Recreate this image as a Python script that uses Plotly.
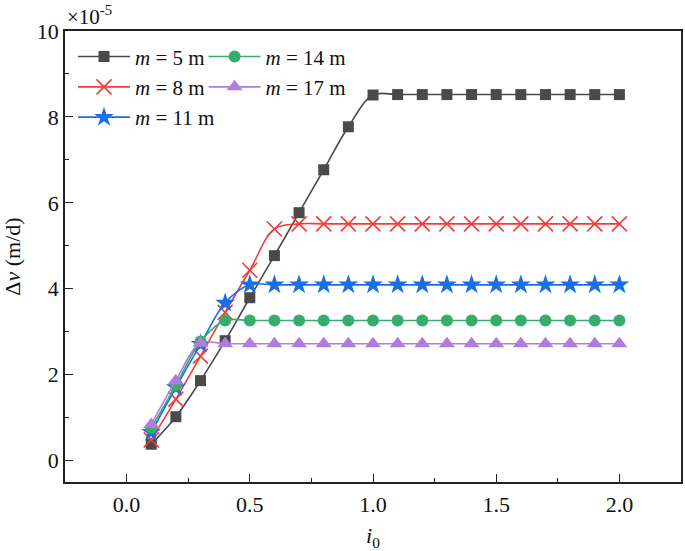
import plotly.graph_objects as go

i0 = [round(0.1 * k, 1) for k in range(1, 21)]

dv_m5 = [0.38, 1.02, 1.86, 2.79, 3.79, 4.77, 5.77, 6.77, 7.77, 8.51,
         8.52, 8.52, 8.52, 8.52, 8.52, 8.52, 8.52, 8.52, 8.52, 8.52]
dv_m8 = [0.48, 1.43, 2.43, 3.45, 4.43, 5.39, 5.51, 5.51, 5.51, 5.51,
         5.51, 5.51, 5.51, 5.51, 5.51, 5.51, 5.51, 5.51, 5.51, 5.51]
dv_m11 = [0.66, 1.70, 2.71, 3.67, 4.09, 4.09, 4.09, 4.09, 4.09, 4.09,
          4.09, 4.09, 4.09, 4.09, 4.09, 4.09, 4.09, 4.09, 4.09, 4.09]
dv_m14 = [0.76, 1.75, 2.77, 3.26, 3.26, 3.26, 3.26, 3.26, 3.26, 3.26,
          3.26, 3.26, 3.26, 3.26, 3.26, 3.26, 3.26, 3.26, 3.26, 3.26]
dv_m17 = [0.84, 1.86, 2.73, 2.72, 2.72, 2.72, 2.72, 2.72, 2.72, 2.72,
          2.72, 2.72, 2.72, 2.72, 2.72, 2.72, 2.72, 2.72, 2.72, 2.72]

series_names = ["<i>m</i> = 5 m", "<i>m</i> = 8 m", "<i>m</i> = 11 m",
                "<i>m</i> = 14 m", "<i>m</i> = 17 m"]
series_values = [dv_m5, dv_m8, dv_m11, dv_m14, dv_m17]
colors = ["#4a4a4a", "#f23b3b", "#1a6ee6", "#36ad6a", "#b07ddf"]
symbols = ["square", "x-thin", "star", "circle", "triangle-up"]
sizes = [11, 15, 15, 12, 14]
legends = ["legend", "legend", "legend", "legend2", "legend2"]

FONT = "Liberation Serif"

fig = go.Figure()
for name, vals, c, s, sz, lg in zip(series_names, series_values, colors, symbols, sizes, legends):
    marker = dict(symbol=s, size=sz, color=c)
    if s == "x-thin":
        marker["line"] = dict(color=c, width=1.6)
    else:
        marker["line"] = dict(width=0)
    fig.add_trace(go.Scatter(
        x=i0, y=vals, name=name, mode="lines+markers",
        line=dict(color=c, width=1.6, shape="spline", smoothing=1.0),
        marker=marker, legend=lg,
    ))

axis_common = dict(
    showline=True, linecolor="#222", linewidth=1.7, mirror=True,
    ticks="inside", ticklen=8, tickwidth=1.4, tickcolor="#222",
    showgrid=False, zeroline=False,
    tickfont=dict(family=FONT, size=22, color="#111"),
)

fig.update_xaxes(
    range=[-0.25, 2.25], tickvals=[0.0, 0.5, 1.0, 1.5, 2.0],
    ticktext=["0.0", "0.5", "1.0", "1.5", "2.0"],
    minor=dict(tickvals=[0.25, 0.75, 1.25, 1.75], ticks="inside", ticklen=4,
               tickwidth=1.4, tickcolor="#222"),
    ticklabelstandoff=2,
    title=dict(text="<i>i</i><sub>0</sub>", font=dict(family=FONT, size=22, color="#111"),
               standoff=13),
    **axis_common,
)
fig.update_yaxes(
    range=[-0.5, 10], tickvals=[0, 2, 4, 6, 8, 10],
    minor=dict(tickvals=[1, 3, 5, 7, 9], ticks="inside", ticklen=4,
               tickwidth=1.4, tickcolor="#222"),
    title=dict(text="Δ<i>v</i> (m/d)", font=dict(family=FONT, size=22, color="#111"),
               standoff=12),
    **axis_common,
)

legend_common = dict(
    font=dict(family=FONT, size=21, color="#111"),
    bgcolor="rgba(0,0,0,0)", itemwidth=52, tracegroupgap=0,
    xanchor="left", yanchor="top", orientation="v",
)
fig.update_layout(
    width=685, height=551,
    margin=dict(l=65, r=2, t=31, b=69),
    paper_bgcolor="white", plot_bgcolor="white",
    font=dict(family=FONT),
    legend=dict(x=0.013, y=0.988, **legend_common),
    legend2=dict(x=0.225, y=0.988, **legend_common),
    annotations=[dict(text="×10<sup>-5</sup>", xref="paper", yref="paper",
                      x=0.0, y=1.0, xanchor="left", yanchor="bottom",
                      showarrow=False, font=dict(family=FONT, size=21, color="#111"))],
)

fig.write_html("out.html", config={"displayModeBar": False},
               post_script="document.body.style.margin='0';document.body.style.overflow='hidden';")
